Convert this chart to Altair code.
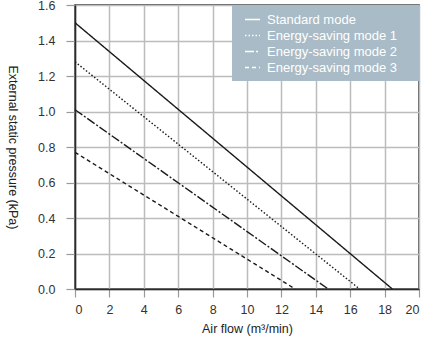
import altair as alt
import pandas as pd

modes = ["Standard mode", "Energy-saving mode 1", "Energy-saving mode 2", "Energy-saving mode 3"]
start_pressure = [1.50, 1.28, 1.01, 0.77]   # kPa at zero air flow
end_flow = [18.45, 16.55, 14.72, 12.8]      # m3/min at zero pressure
dashes = [[1, 0], [1.5, 2], [9, 2, 2, 2], [4, 3]]

rows = []
for m, p0, f1 in zip(modes, start_pressure, end_flow):
    rows.append({"mode": m, "flow": 0.0, "pressure": p0})
    rows.append({"mode": m, "flow": f1, "pressure": 0.0})
df = pd.DataFrame(rows)

font = "Liberation Sans"

lines = alt.Chart(df).mark_line(color="#1a1a1a", strokeWidth=1.4, clip=True).encode(
    x=alt.X("flow:Q", scale=alt.Scale(domain=[0, 20], nice=False),
            axis=alt.Axis(values=list(range(0, 21, 2)), title="Air flow (m³/min)",
                          labelPadding=6,
                          titleX=172, titleY=39, titleBaseline="middle")),
    y=alt.Y("pressure:Q", scale=alt.Scale(domain=[0, 1.6], nice=False),
            axis=alt.Axis(values=[0, 0.2, 0.4, 0.6, 0.8, 1.0, 1.2, 1.4, 1.6], format=".1f",
                          title="External static pressure (kPa)", labelPadding=11,
                          titleX=-63, titleY=142, titleAngle=90, titleBaseline="middle")),
    strokeDash=alt.StrokeDash("mode:N", scale=alt.Scale(domain=modes, range=dashes),
                              legend=alt.Legend(title="\u00a0", titleOrient="right",
                                                titlePadding=16, titleFontSize=2,
                                                orient="top-right", offset=0,
                                                fillColor="#a9bbc6", padding=6,
                                                symbolType="stroke", symbolSize=225,
                                                symbolOffset=6,
                                                symbolStrokeColor="white", symbolStrokeWidth=1.3,
                                                labelColor="white", labelFontSize=13,
                                                labelFont=font, rowPadding=0,
                                                labelLimit=250, labelOffset=6)),
    detail="mode:N",
)

chart = lines.properties(
    width=344, height=284,
    padding={"left": 75, "top": 5, "right": 8, "bottom": 55},
    autosize=alt.AutoSizeParams(type="none"),
).configure_view(
    stroke="#2b2b2b", strokeWidth=1.5
).configure_axis(
    gridColor="#bcbcbc", gridWidth=1.5, gridOpacity=1,
    domainColor="#2b2b2b", domainWidth=1.5,
    tickColor="#9a9a9a", tickSize=8, tickWidth=1.2,
    labelFont=font, labelFontSize=12.5, labelColor="#333333",
    titleFont=font, titleFontSize=12.5, titleColor="#222222", titleFontWeight="normal",
).configure_axisY(
    tickSize=9
)

chart.save("out.html", embed_options={"renderer": "svg", "actions": False})
